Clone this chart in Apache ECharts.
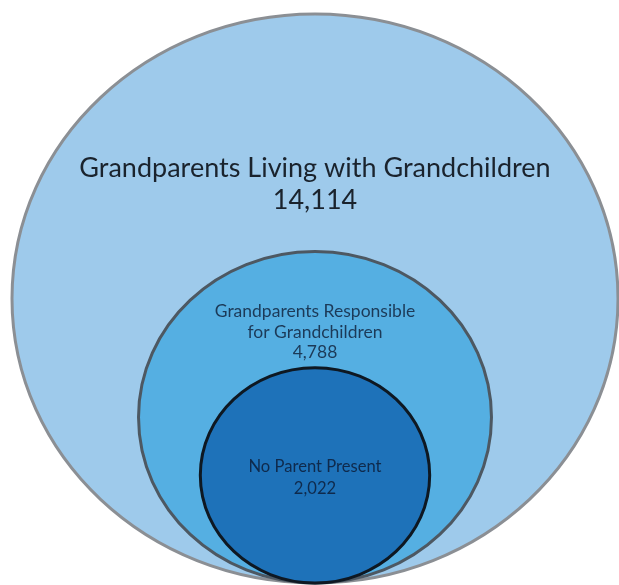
<!DOCTYPE html>
<html><head><meta charset="utf-8">
<script src="https://cdn.jsdelivr.net/npm/echarts@6/dist/echarts.min.js"></script>
<style>html,body{margin:0;padding:0;background:#fff}#chart{width:619px;height:585px}</style>
</head><body><div id="chart"></div>
<script>
// ---- data ----
const groupNames = [
  ['Grandparents Living with Grandchildren'],
  ['Grandparents Responsible', 'for Grandchildren'],
  ['No Parent Present']
];
const groupValues = [14114, 4788, 2022];

// ---- styles ----
const fills = ['#9ecaeb', '#55afe2', '#1e72b9'];
const strokes = ['#8b8f94', '#4d5862', '#0e1822'];
const textColors = ['#1a232d', '#1c3a58', '#0f2a4c'];
const fontSizes = [27, 17.5, 16.6];
const lineHeights = [32, 20.5, 22];
const labelAnchor = [0.3, 0.243, 0.51]; // fraction of circle height from its top

const maxR = Math.sqrt(Math.max.apply(null, groupValues));

const chart = echarts.init(document.getElementById('chart'), null, {renderer: 'canvas'});
chart.setOption({
  animation: false,
  grid: {left: 12, right: 1, top: 14, bottom: 2},
  xAxis: {type: 'value', min: -maxR, max: maxR, show: false},
  yAxis: {type: 'value', min: 0, max: 2 * maxR, show: false},
  series: [{
    type: 'custom',
    coordinateSystem: 'cartesian2d',
    data: groupValues.map((v, i) => [v, i]),
    renderItem: function (params, api) {
      const v = api.value(0);
      const i = api.value(1);
      const r = Math.sqrt(v);
      const c = api.coord([0, r]);
      const s = api.size([r, r]);
      const top = c[1] - s[1];
      const text = groupNames[i].concat([v.toLocaleString('en-US')]).join('\n');
      return {
        type: 'group',
        children: [
          {
            type: 'ellipse',
            shape: {cx: c[0], cy: c[1], rx: s[0], ry: s[1]},
            style: {fill: fills[i], stroke: strokes[i], lineWidth: 3}
          },
          {
            type: 'text',
            x: c[0],
            y: top + labelAnchor[i] * 2 * s[1],
            style: {
              text: text,
              fill: textColors[i],
              fontSize: fontSizes[i],
              fontFamily: 'Lato',
              lineHeight: lineHeights[i],
              align: 'center',
              verticalAlign: 'middle'
            }
          }
        ]
      };
    }
  }]
});
</script>
</body></html>
